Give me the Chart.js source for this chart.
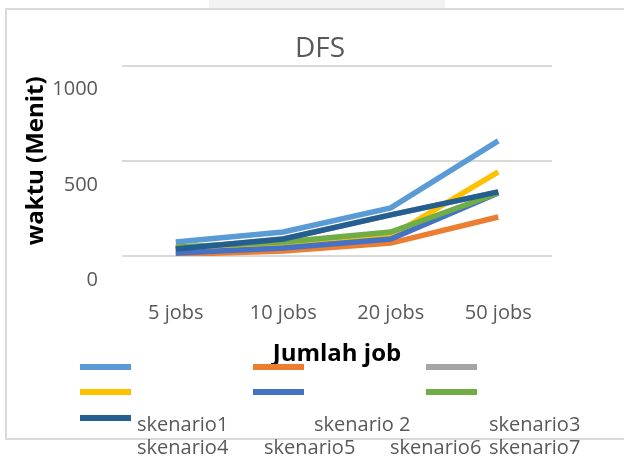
<!DOCTYPE html>
<html>
<head>
<meta charset="utf-8">
<script src="https://cdn.jsdelivr.net/npm/chart.js@4.4.1/dist/chart.umd.min.js"></script>
<style>
  html, body { margin: 0; padding: 0; background: #fff; }
  #wrap { position: relative; width: 624px; height: 459px; overflow: hidden; font-family: "Open Sans", sans-serif; }
  #frame { position: absolute; left: 5px; top: 8px; width: 640px; height: 432px; border: 2px solid #d9d9d9; box-sizing: border-box; }
  #tab { position: absolute; left: 209px; top: 0; width: 236px; height: 8px; background: #f3f3f3; }
  canvas { position: absolute; left: 0; top: 0; }
  .sw { position: absolute; width: 51px; height: 6px; }
  .lb { position: absolute; font-size: 20px; line-height: 24px; color: #595959; white-space: nowrap; }
</style>
</head>
<body>
<div id="wrap">
  <div id="tab"></div>
  <div id="frame"></div>
  <canvas id="chart" width="624" height="459"></canvas>
</div>
<script>
const categories = ['5 jobs', '10 jobs', '20 jobs', '50 jobs'];
const seriesNames = ['skenario1', 'skenario 2', 'skenario3', 'skenario4', 'skenario5', 'skenario6', 'skenario7'];
const skenario1 = [74, 126, 253, 605];
const skenario2 = [8, 26, 68, 205];
const skenario3 = [37, 89, 216, 337];
const skenario4 = [42, 63, 105, 442];
const skenario5 = [16, 42, 89, 331];
const skenario6 = [47, 74, 126, 331];
const skenario7 = [37, 89, 216, 337];
const yTicks = [0, 500, 1000];

const colors = ['#5B9BD5', '#ED7D31', '#A5A5A5', '#FFC000', '#4472C4', '#70AD47', '#255E91'];
const values = [skenario1, skenario2, skenario3, skenario4, skenario5, skenario6, skenario7];

const datasets = values.map((data, i) => ({
  label: seriesNames[i],
  data,
  borderColor: colors[i],
  backgroundColor: colors[i],
  borderWidth: 5.5,
  pointRadius: 0,
  tension: 0,
  order: 20 - i, // later series on top, like Excel
}));

const font = 'Open Sans';
const grey = '#595959';

// eslint-disable-next-line no-undef
new Chart(document.getElementById('chart').getContext('2d'), {
  type: 'line',
  data: { labels: categories, datasets },
  options: {
    responsive: false,
    animation: false,
    layout: { padding: { left: 16, right: 0, top: 0, bottom: 0 } },
    plugins: {
      legend: { display: false },
      tooltip: { enabled: false },
      title: {
        display: true,
        text: 'DFS',
        color: grey,
        font: { family: font, size: 28, weight: 'normal' },
        padding: { top: 32, bottom: 0 },
      },
    },
    scales: {
      x: {
        offset: true,
        border: { display: false },
        grid: { display: false, drawTicks: false },
        ticks: { color: grey, font: { family: font, size: 20 }, padding: 45, maxRotation: 0 },
        title: {
          display: true,
          text: 'Jumlah job',
          color: '#000',
          font: { family: font, size: 24, weight: 'bold' },
          padding: { top: 0, bottom: 90 },
        },
        afterFit: (s) => { s.height = 459 - 256; },
      },
      y: {
        min: 0,
        max: 1000,
        border: { display: false },
        grid: { color: '#d9d9d9', lineWidth: 2, drawTicks: false },
        afterBuildTicks: (s) => { s.ticks = yTicks.map((v) => ({ value: v })); },
        ticks: {
          color: grey,
          font: { family: font, size: 20 },
          padding: 24,
          labelOffset: 24,
          callback: (v) => String(v),
        },
        title: {
          display: true,
          text: 'waktu (Menit)',
          color: '#000',
          font: { family: font, size: 24, weight: 'bold' },
          padding: { top: 6, bottom: 0 },
        },
        afterFit: (s) => { s.width = 122 - 16; },
      },
      yRight: {
        position: 'right',
        display: true,
        border: { display: false },
        grid: { display: false, drawTicks: false },
        ticks: { display: false },
        afterFit: (s) => { s.width = 624 - 552; },
      },
    },
  },
});

// legend laid out like the Excel original
const swatchAt = [[80, 364], [253, 364], [426, 364], [80, 389], [253, 389], [426, 389], [80, 415]];
const labelAt = [[137, 412], [314, 412], [489, 412], [137, 435], [264, 435], [390, 435], [489, 435]];
const wrap = document.getElementById('wrap');
datasets.forEach((ds, i) => {
  const sw = document.createElement('div');
  sw.className = 'sw';
  sw.style.left = swatchAt[i][0] + 'px';
  sw.style.top = swatchAt[i][1] + 'px';
  sw.style.background = ds.borderColor;
  wrap.appendChild(sw);
  const lb = document.createElement('div');
  lb.className = 'lb';
  lb.style.left = labelAt[i][0] + 'px';
  lb.style.top = labelAt[i][1] + 'px';
  lb.textContent = ds.label;
  wrap.appendChild(lb);
});
</script>
</body>
</html>
